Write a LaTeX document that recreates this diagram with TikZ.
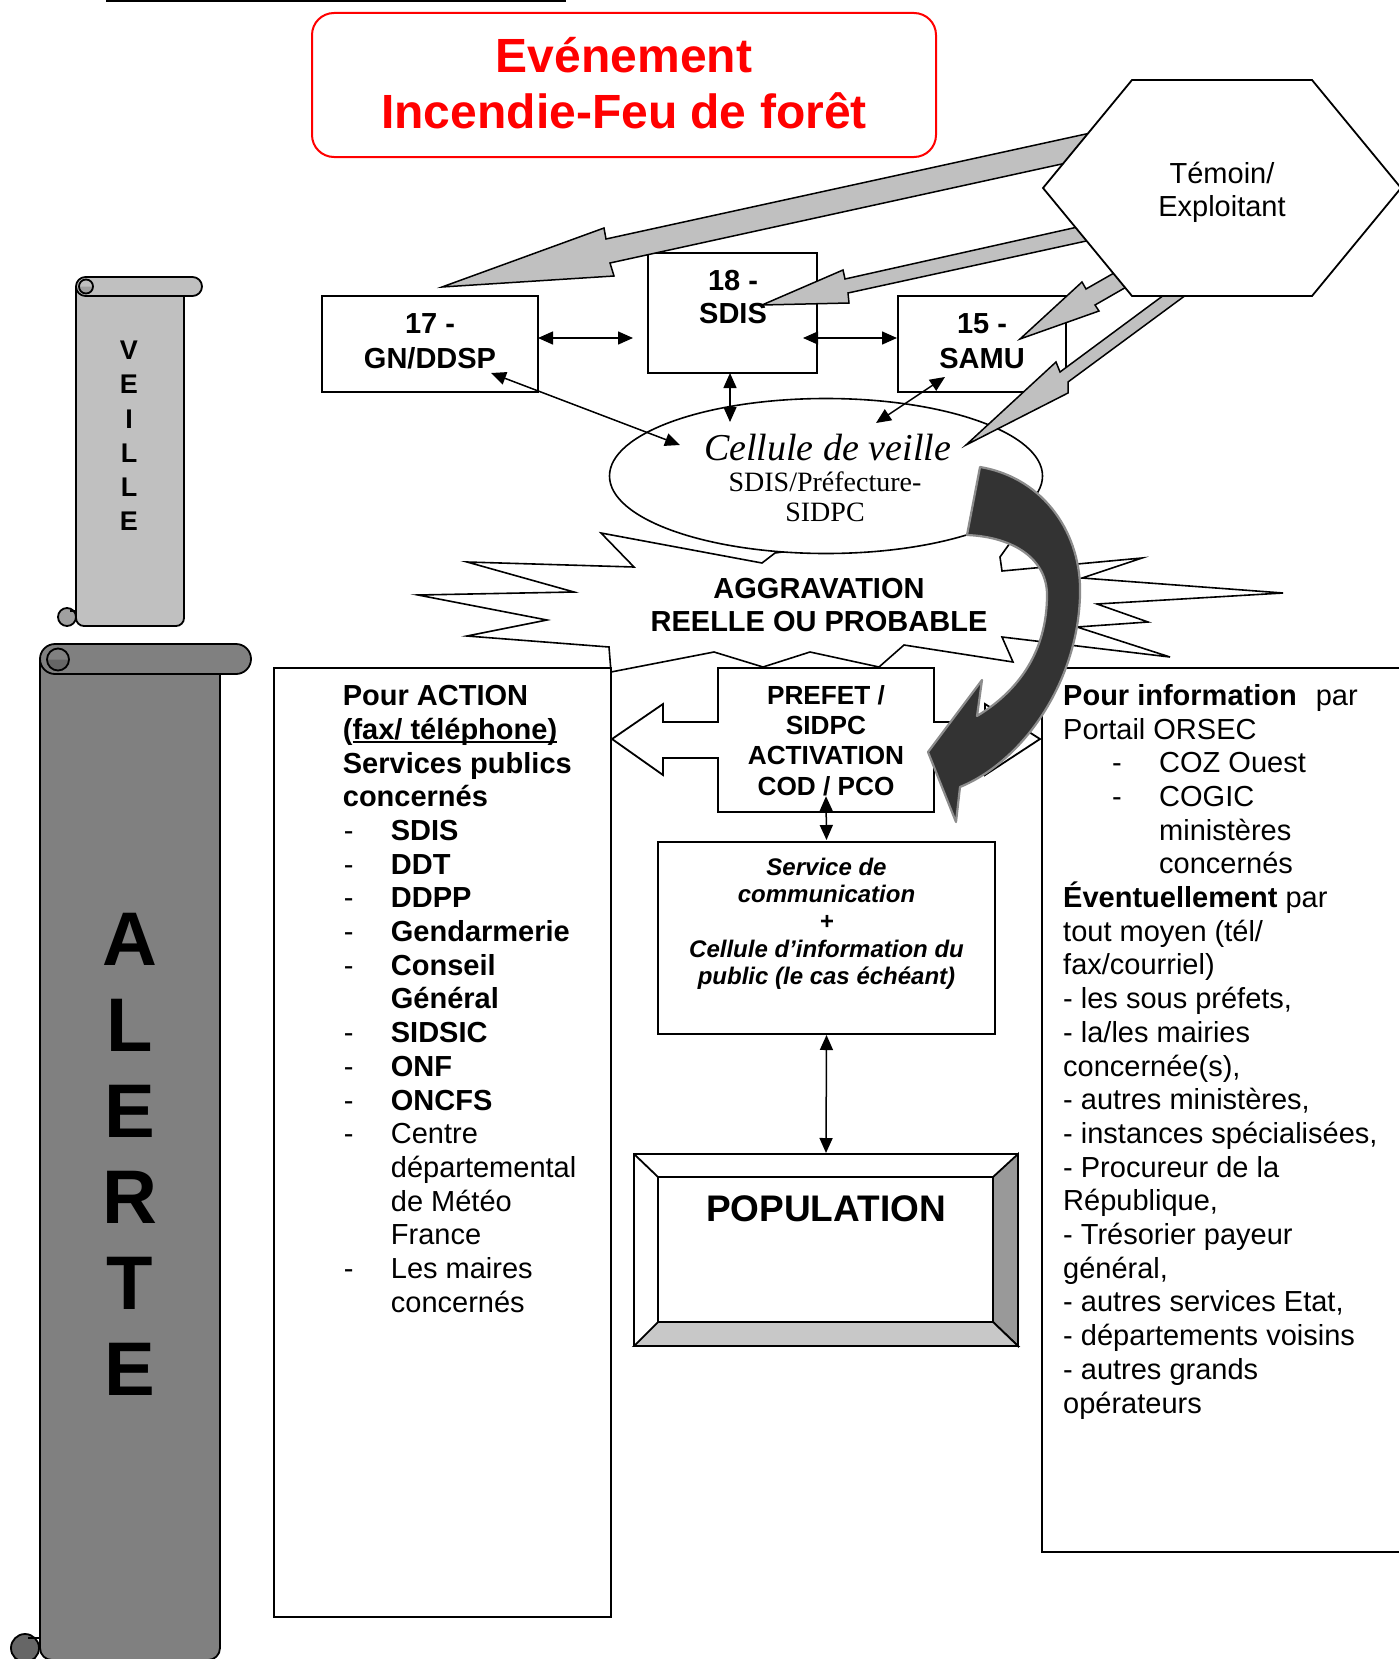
\documentclass[tikz,border=0pt]{standalone}
\usepackage{fontspec}
\setmainfont{Liberation Sans}
\newfontfamily\cellfont{Liberation Serif}
\usepackage{xcolor}
\usepackage{tikz}
\usetikzlibrary{arrows.meta,positioning,calc,shapes.geometric}
\definecolor{veillegray}{HTML}{C0C0C0}
\definecolor{alertegray}{HTML}{808080}
\definecolor{veillecurl}{HTML}{A0A0A0}
\definecolor{alertecurl}{HTML}{666666}
\definecolor{flashgray}{HTML}{C0C0C0}
\definecolor{curvedark}{HTML}{333333}
\definecolor{curveedge}{HTML}{8C8C8C}
\definecolor{bevelside}{HTML}{999999}
\definecolor{bevelfoot}{HTML}{C8C8C8}
\newcommand{\fsz}[2]{\fontsize{#1}{#2}\selectfont}
\newcommand{\actitem}[1]{\makebox[48pt][l]{\hspace*{1pt}-}#1}
\newcommand{\actcont}[1]{\hspace*{48pt}#1}
\newcommand{\infitem}[1]{\hspace*{49pt}\makebox[47pt][l]{-}#1}
\newcommand{\infcont}[1]{\hspace*{96pt}#1}
\newcommand{\undl}[1]{\setbox0\hbox{#1}\rlap{\rule[-3.5pt]{\wd0}{1.6pt}}#1}
\tikzset{
  orgbox/.style={draw, line width=1.8pt, inner sep=0pt, outer sep=0pt},
  titlebox/.style={draw=red, line width=2pt, rounded corners=22pt, inner sep=0pt},
  lbl/.style={inner sep=0pt, align=center, anchor=north},
  listtxt/.style={inner sep=0pt, align=left, anchor=north west, font=\fsz{29}{33.7}},
  dblmsg/.style={<->, >={Triangle[length=15pt,width=13pt]}, line width=1.5pt},
  flash/.style={draw, line width=1.5pt, fill=flashgray},
  burst/.style={draw, line width=1.6pt, fill=white},
  scrollpart/.style={draw, line width=1.8pt, line join=round},
  bevel/.style={draw, line width=1.8pt}
}

\begin{document}
\begin{tikzpicture}[x=1pt, y=-1pt]
\useasboundingbox (0,0) rectangle (1398,1659);
\draw[line width=2pt] (106,1.2) -- (566,1.2);

\node[titlebox, minimum width=624pt, minimum height=144pt] (title) at (624,85) {};
\node[lbl, text=red, font=\fsz{48}{55.6}\bfseries] (titletxt) at (624,33.8) {\strut Evénement\\Incendie-Feu de forêt};

% rouleaux
\draw[scrollpart, fill=veillegray, rounded corners=8pt] (76,287) -- (76,626) -- (184,626) -- (184,287);
\draw[scrollpart, fill=veillegray, rounded corners=9.5pt] (76,277) rectangle (202,296);
\fill[veillecurl] (79,286.5) arc[start angle=180, end angle=0, radius=7] -- cycle;
\draw[scrollpart] (86,286.5) circle (7);
\draw[scrollpart, fill=veillecurl] (67,617) circle (9);
\draw[scrollpart] (70,611) -- (76,611);
\node[lbl, font=\fsz{27}{34.2}\bfseries] (veille) at (129,335.6) {\strut V\\E\\I\\L\\L\\E};

\draw[scrollpart, fill=alertegray, rounded corners=12pt] (40,659) -- (40,1660) -- (220,1660) -- (220,659);
\draw[scrollpart, fill=alertegray, rounded corners=15pt] (40,644) rectangle (251,674);
\fill[alertecurl] (47,659.5) arc[start angle=180, end angle=0, radius=11] -- cycle;
\draw[scrollpart] (58,659.5) circle (11);
\draw[scrollpart, fill=alertecurl] (25,1648) circle (14);
\draw[scrollpart] (28,1638) -- (40,1638);
\node[lbl, font=\fsz{76}{86}\bfseries] (alerte) at (130,905) {\strut A\\L\\E\\R\\T\\E};

\node[orgbox, minimum width=216pt, minimum height=96pt] (gn) at (430,344) {};
\node[orgbox, minimum width=169pt, minimum height=120pt] (sdis) at (732.5,313) {};
\node[orgbox, minimum width=168pt, minimum height=96pt] (samu) at (982,344) {};
\node[lbl, font=\fsz{29}{35}\bfseries] (gntxt) at (430,308.5) {\strut 17 -\\GN/DDSP};
\node[lbl, font=\fsz{29}{33}\bfseries] (sdistxt) at (733,266.9) {\strut 18 -\\SDIS};
\node[lbl, font=\fsz{29}{35}\bfseries] (samutxt) at (982,308.5) {\strut 15 -\\SAMU};

\draw[burst] (601,533) -- (762,563) -- (775,553) -- (960,528) -- (1030,515) -- (1000,557) -- (1002,571) -- (1142,558) -- (1082,578) -- (1283,593) -- (1097,604) -- (1148,622) -- (1077,627) -- (1170,657) -- (1002,637) -- (1013,662) -- (904,645) -- (879,667) -- (810,652) -- (763,667) -- (714,652) -- (611,672) -- (609,647) -- (467,636) -- (547,620) -- (418,595) -- (574,592) -- (467,562) -- (634,567) -- cycle;
\node[lbl, font=\fsz{29}{33.4}\bfseries] (aggrav) at (819,574.9) {\strut AGGRAVATION\\REELLE OU PROBABLE};

\node[draw, ellipse, line width=1.6pt, fill=white, minimum width=433pt, minimum height=155pt, inner sep=0pt, outer sep=0pt] (cellule) at (826,476) {};
\node[anchor=base, inner sep=0pt, font=\cellfont\itshape\fsz{38}{40}] (celltitle) at (827.5,460) {Cellule de veille};
\node[lbl, font=\cellfont\fsz{28}{30}] (cellsub) at (825,470.7) {\strut SDIS/Préfecture-\\SIDPC};

\draw[dblmsg] ([yshift=6pt]gn.east) -- ([xshift=-15pt,yshift=-25pt]sdis.west);
\draw[dblmsg] ([xshift=-14pt,yshift=-25pt]sdis.east) -- ([xshift=-1pt,yshift=6pt]samu.west);
\draw[dblmsg] ([xshift=-2.5pt]sdis.south) -- ([xshift=-96pt,yshift=54pt]cellule.center);
\draw[dblmsg] ([xshift=61pt,yshift=19pt]gn.south) -- ([xshift=-146pt,yshift=31pt]cellule.center);
\draw[dblmsg] ([xshift=-37pt,yshift=15pt]samu.south) -- ([xshift=50pt,yshift=53pt]cellule.center);

\draw[flash] (1095,132) -- (606,239) -- (604,228) -- (442,287) -- (614,276) -- (610,263) -- (1080,160) -- cycle;
\draw[flash] (1100,222) -- (845,279) -- (843,270) -- (762,305) -- (849,303) -- (848,293) -- (1100,238) -- cycle;
\draw[flash] (1128,265) -- (1086,289) -- (1082,282) -- (1020,339) -- (1099,311) -- (1095,305) -- (1142,278) -- cycle;
\draw[flash] (1168,292) -- (1060,372) -- (1056,362) -- (966,445) -- (1068,393) -- (1068,382) -- (1190,292) -- cycle;

\draw[line width=1.8pt, fill=white] (1043,188) -- (1132,80) -- (1312,80) -- (1401,188) -- (1312,296) -- (1132,296) -- cycle;
\node[lbl, font=\fsz{29}{33.4}] (temoin) at (1222,160) {\strut Témoin/\\Exploitant};

\node[orgbox, minimum width=337pt, minimum height=949pt] (action) at (442.5,1142.5) {};
\node[orgbox, minimum width=363pt, minimum height=884pt] (info) at (1223.5,1110) {};

\node[inner sep=0pt, minimum width=216pt, minimum height=144pt] (prefet) at (826,740) {};
\draw[line width=1.8pt, fill=white] (718,668) -- (934,668) -- (934,722) -- (985,722) -- (985,704) -- (1040,739) -- (985,775) -- (985,758) -- (934,758) -- (934,812) -- (718,812) -- (718,758) -- (663,758) -- (663,775) -- (612,739) -- (663,704) -- (663,722) -- (718,722) -- cycle;
\node[lbl, font=\fsz{26.2}{30.2}\bfseries] (prefettxt) at (826,683.2) {\strut PREFET /\\SIDPC\\ACTIVATION\\COD / PCO};

\node[orgbox, minimum width=337pt, minimum height=192pt] (service) at (826.5,938) {};
\node[lbl, font=\fsz{24}{27.4}\bfseries\itshape] (servicetxt) at (826.5,855.8) {\strut Service de\\communication\\+\\Cellule d’information du\\public (le cas échéant)};

\node[orgbox, minimum width=384pt, minimum height=192pt] (population) at (826,1250) {};
\draw[bevel, fill=bevelside] (population.north east) -- (population.south east) -- ($(population.south east)+(-25,-24)$) -- ($(population.north east)+(-25,23)$) -- cycle;
\draw[bevel, fill=bevelfoot] (population.south west) -- (population.south east) -- ($(population.south east)+(-25,-24)$) -- ($(population.south west)+(24,-24)$) -- cycle;
\draw[bevel] (population.north west) -- ($(population.north west)+(24,23)$);
\draw[bevel] ($(population.north west)+(24,23)$) rectangle ($(population.south east)+(-25,-24)$);
\node[anchor=base, inner sep=0pt, font=\fsz{37}{40}\bfseries] (poptxt) at (826,1221) {POPULATION};

\draw[dblmsg] ([yshift=16pt]prefet.south) -- ([yshift=2pt]service.north);
\draw[dblmsg] ([yshift=-1pt]service.south) -- ([yshift=1pt]population.north);

\draw[line width=2.2pt, draw=curveedge, fill=curvedark, line join=round] (980,467) .. controls (1045,478) and (1082,535) .. (1080,595) .. controls (1078,680) and (1025,760) .. (960,787) -- (956,822) -- (928,752) -- (982,680) -- (977,716) .. controls (1020,690) and (1047,650) .. (1047,595) .. controls (1047,560) and (1015,537) .. (967,535) -- cycle;

\node[listtxt] (actiontxt) at (342.7,681.8) {\strut\textbf{Pour ACTION}\\
\textbf{(\undl{fax/ téléphone)}}\\
\textbf{Services publics}\\
\textbf{concernés}\\
\actitem{\textbf{SDIS}}\\
\actitem{\textbf{DDT}}\\
\actitem{\textbf{DDPP}}\\
\actitem{\textbf{Gendarmerie}}\\
\actitem{\textbf{Conseil}}\\
\actcont{\textbf{Général}}\\
\actitem{\textbf{SIDSIC}}\\
\actitem{\textbf{ONF}}\\
\actitem{\textbf{ONCFS}}\\
\actitem{Centre}\\
\actcont{départemental}\\
\actcont{de Météo}\\
\actcont{France}\\
\actitem{Les maires}\\
\actcont{concernés}};

\node[listtxt] (infotxt) at (1063,681.5) {\strut\textbf{Pour information}\hspace{19pt}par\\
Portail ORSEC\\
\infitem{COZ Ouest}\\
\infitem{COGIC}\\
\infcont{ministères}\\
\infcont{concernés}\\
\textbf{Éventuellement} par\\
tout moyen (tél/\\
fax/courriel)\\
- les sous préfets,\\
- la/les mairies\\
concernée(s),\\
- autres ministères,\\
- instances spécialisées,\\
- Procureur de la\\
République,\\
- Trésorier payeur\\
général,\\
- autres services Etat,\\
- départements voisins\\
- autres grands\\
opérateurs};
\end{tikzpicture}
\end{document}
